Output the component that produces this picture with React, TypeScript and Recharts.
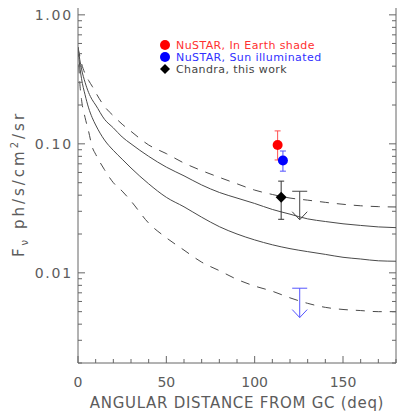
import React from 'react';
import { ComposedChart, Line, Scatter, XAxis, YAxis, ErrorBar, ReferenceLine } from 'recharts';

// model curves (flux vs angular distance from GC)
const ANGLES = [0, 1, 2, 4, 6, 8, 10, 15, 20, 25, 30, 40, 50, 60, 70, 80, 90, 100, 110, 120, 130, 140, 150, 160, 170, 180];
const UPPER_DASHED = [0.56, 0.48, 0.42, 0.35, 0.31, 0.28, 0.25, 0.195, 0.165, 0.142, 0.125, 0.098, 0.084, 0.071, 0.062, 0.055, 0.049, 0.0438, 0.0405, 0.038, 0.0366, 0.0352, 0.034, 0.0331, 0.0326, 0.0324];
const UPPER_SOLID = [0.56, 0.45, 0.38, 0.3, 0.25, 0.22, 0.2, 0.155, 0.133, 0.113, 0.1, 0.08, 0.066, 0.0565, 0.048, 0.042, 0.038, 0.0345, 0.031, 0.0285, 0.0262, 0.025, 0.024, 0.0233, 0.0227, 0.0224];
const LOWER_SOLID = [0.56, 0.4, 0.32, 0.24, 0.19, 0.16, 0.14, 0.107, 0.089, 0.076, 0.065, 0.049, 0.0385, 0.0325, 0.027, 0.0228, 0.02, 0.018, 0.0165, 0.0154, 0.0146, 0.0139, 0.0132, 0.0128, 0.0124, 0.0123];
const LOWER_DASHED = [0.56, 0.3, 0.22, 0.16, 0.125, 0.095, 0.083, 0.063, 0.05, 0.043, 0.036, 0.0243, 0.0187, 0.015, 0.0121, 0.0104, 0.0089, 0.0079, 0.0072, 0.0064, 0.0058, 0.0054, 0.0052, 0.0051, 0.005, 0.005];

// measurements: angle, flux, lower and upper end of the error bar
const NUSTAR_SHADE = [{ angle: 113, flux: 0.098, lo: 0.075, hi: 0.126 }];
const NUSTAR_SUN = [{ angle: 116, flux: 0.0743, lo: 0.0614, hi: 0.088 }];
const CHANDRA = [{ angle: 115, flux: 0.0386, lo: 0.026, hi: 0.0514 }];
// upper limits: bar value and arrow tip
const CHANDRA_LIMIT = [{ angle: 125.5, top: 0.0429, tip: 0.0258 }];
const NUSTAR_LIMIT = [{ angle: 125.5, top: 0.0076, tip: 0.0045 }];

const X_TICKS = [0, 10, 20, 30, 40, 50, 60, 70, 80, 90, 100, 110, 120, 130, 140, 150, 160, 170, 180];
const X_LABELED = [0, 50, 100, 150];
const Y_TICKS = [0.002, 0.003, 0.004, 0.005, 0.006, 0.007, 0.008, 0.009, 0.01, 0.02, 0.03, 0.04, 0.05, 0.06, 0.07, 0.08, 0.09, 0.1, 0.2, 0.3, 0.4, 0.5, 0.6, 0.7, 0.8, 0.9, 1];
const Y_LABELED = [0.01, 0.1, 1];

const LEGEND_LABELS = ['NuSTAR, In Earth shade', 'NuSTAR, Sun illuminated', 'Chandra, this work'];
const LEGEND_COLORS = ['#ff3030', '#3030ff', '#444'];

const AXIS = '#666';
const CURVE = '#4a4a4a';
const TEXT = '#5c5c5c';
const FONT = '"DejaVu Sans", sans-serif';
const W = 397;
const H = 411;
const PLOT_LEFT = 78;
const PLOT_RIGHT = 396;

const curveData = ANGLES.map((angle, i) => ({
  angle,
  upperDashed: UPPER_DASHED[i],
  upperSolid: UPPER_SOLID[i],
  lowerSolid: LOWER_SOLID[i],
  lowerDashed: LOWER_DASHED[i],
}));

const withErr = (pts: typeof CHANDRA) => pts.map((p) => ({ ...p, err: [p.flux - p.lo, p.hi - p.flux] }));
const limitPoints = (pts: typeof CHANDRA_LIMIT) =>
  pts.flatMap((p) => [
    { angle: p.angle, flux: p.top, kind: 'bar' },
    { angle: p.angle, flux: p.tip, kind: 'tip' },
  ]);

const BottomTick = (props: any) => {
  const { x, y, payload } = props;
  const major = X_LABELED.includes(payload.value);
  return (
    <g>
      <line x1={x} y1={y} x2={x} y2={y - (major ? 7 : 4)} stroke={AXIS} />
      {major && (
        <text x={x} y={y + 24} textAnchor="middle" fontSize={14} fontFamily={FONT} fill={TEXT}>
          {payload.value}
        </text>
      )}
    </g>
  );
};

const TopTick = (props: any) => {
  const { x, y, payload } = props;
  const major = X_LABELED.includes(payload.value);
  return <line x1={x} y1={y} x2={x} y2={y + (major ? 7 : 4)} stroke={AXIS} />;
};

// left ticks with labels, mirrored onto the right frame edge
const LeftTick = (props: any) => {
  const { x, y, payload } = props;
  const major = Y_LABELED.includes(payload.value);
  const len = major ? 7 : 4;
  return (
    <g>
      <line x1={x} y1={y} x2={x + len} y2={y} stroke={AXIS} />
      <line x1={PLOT_RIGHT} y1={y} x2={PLOT_RIGHT - len} y2={y} stroke={AXIS} />
      {major && (
        <text x={x - 5} y={y + 5} textAnchor="end" fontSize={14} fontFamily={FONT} fill={TEXT} letterSpacing={1.8}>
          {payload.value.toFixed(2)}
        </text>
      )}
    </g>
  );
};

const YTitle = () => (
  <text
    x={24}
    y={184}
    transform="rotate(-90, 24, 184)"
    textAnchor="middle"
    fontSize={15}
    fontFamily={FONT}
    fill={TEXT}
    letterSpacing={3}
  >
    F<tspan fontSize={10} dy={4}>ν</tspan>
    <tspan dy={-4}> ph/s/cm</tspan>
    <tspan fontSize={10} dy={-6}>2</tspan>
    <tspan dy={6}>/sr</tspan>
  </text>
);

const XTitle = () => (
  <text x={(PLOT_LEFT + PLOT_RIGHT) / 2} y={408} textAnchor="middle" fontSize={15} fontFamily={FONT} fill={TEXT} letterSpacing={0.7}>
    ANGULAR DISTANCE FROM GC (deq)
  </text>
);

const Dot = (color: string) => (props: any) => <circle cx={props.cx} cy={props.cy} r={5} fill={color} />;

const Diamond = (props: any) => {
  const { cx, cy } = props;
  return <path d={`M${cx},${cy - 5.5}L${cx + 5.5},${cy}L${cx},${cy + 5.5}L${cx - 5.5},${cy}Z`} fill="#000" />;
};

const LimitMark = (color: string) => (props: any) => {
  const { cx, cy, payload } = props;
  if (payload.kind === 'bar') {
    return <line x1={cx - 7.5} y1={cy} x2={cx + 7.5} y2={cy} stroke={color} />;
  }
  return (
    <path d={`M${cx - 7.5},${cy - 8}L${cx},${cy}L${cx + 7.5},${cy - 8}`} fill="none" stroke={color} />
  );
};

const LegendOverlay = () => (
  <svg width={W} height={H} style={{ position: 'absolute', left: 0, top: 0, pointerEvents: 'none' }}>
    <circle cx={165} cy={45} r={5} fill="#ff0000" />
    <circle cx={165} cy={57} r={5} fill="#0000ff" />
    <path d="M165,64L170,69L165,74L160,69Z" fill="#000" />
    {LEGEND_LABELS.map((label, i) => (
      <text
        key={label}
        x={176}
        y={49 + i * 12}
        fontSize={11}
        fontFamily={FONT}
        fill={LEGEND_COLORS[i]}
        letterSpacing={0.4}
      >
        {label}
      </text>
    ))}
    <YTitle />
    <XTitle />
  </svg>
);

export default function App() {
  return (
    <div style={{ position: 'absolute', left: 0, top: 0, width: W, height: H, background: '#fff' }}>
      <ComposedChart width={W} height={H} data={curveData} margin={{ top: 8, right: W - PLOT_RIGHT, bottom: 0, left: 0 }}>
        <XAxis
          dataKey="angle"
          type="number"
          domain={[0, 180]}
          allowDataOverflow
          ticks={X_TICKS}
          interval={0}
          height={48}
          tickSize={0}
          tickMargin={0}
          tickLine={false}
          axisLine={{ stroke: AXIS }}
          tick={<BottomTick />}
        />
        <XAxis
          xAxisId="top"
          orientation="top"
          type="number"
          domain={[0, 180]}
          allowDataOverflow
          ticks={X_TICKS}
          interval={0}
          height={0}
          tickSize={0}
          tickMargin={0}
          tickLine={false}
          axisLine={{ stroke: AXIS }}
          tick={<TopTick />}
        />
        <YAxis
          type="number"
          scale="log"
          domain={[0.002, 1.13]}
          allowDataOverflow
          ticks={Y_TICKS}
          interval={0}
          width={PLOT_LEFT}
          tickSize={0}
          tickMargin={0}
          tickLine={false}
          axisLine={{ stroke: AXIS }}
          tick={<LeftTick />}
        />
        <ReferenceLine x={180} stroke={AXIS} ifOverflow="visible" />
        <Line dataKey="upperDashed" type="monotone" stroke={CURVE} strokeWidth={1} strokeDasharray="9 8" dot={false} isAnimationActive={false} />
        <Line dataKey="upperSolid" type="monotone" stroke={CURVE} strokeWidth={1} dot={false} isAnimationActive={false} />
        <Line dataKey="lowerSolid" type="monotone" stroke={CURVE} strokeWidth={1} dot={false} isAnimationActive={false} />
        <Line dataKey="lowerDashed" type="monotone" stroke={CURVE} strokeWidth={1} strokeDasharray="9 8" dot={false} isAnimationActive={false} />
        <Scatter data={limitPoints(CHANDRA_LIMIT)} dataKey="flux" line={{ stroke: '#444', strokeWidth: 1 }} shape={LimitMark('#444')} isAnimationActive={false} />
        <Scatter data={limitPoints(NUSTAR_LIMIT)} dataKey="flux" line={{ stroke: '#5555ff', strokeWidth: 1 }} shape={LimitMark('#5555ff')} isAnimationActive={false} />
        <Scatter data={withErr(CHANDRA)} dataKey="flux" shape={Diamond} isAnimationActive={false}>
          <ErrorBar dataKey="err" direction="y" width={3} stroke="#333" strokeWidth={1} />
        </Scatter>
        <Scatter data={withErr(NUSTAR_SHADE)} dataKey="flux" shape={Dot('#ff0000')} isAnimationActive={false}>
          <ErrorBar dataKey="err" direction="y" width={3} stroke="#ff5050" strokeWidth={1} />
        </Scatter>
        <Scatter data={withErr(NUSTAR_SUN)} dataKey="flux" shape={Dot('#0000ff')} isAnimationActive={false}>
          <ErrorBar dataKey="err" direction="y" width={3} stroke="#5050ff" strokeWidth={1} />
        </Scatter>
      </ComposedChart>
      <LegendOverlay />
    </div>
  );
}
